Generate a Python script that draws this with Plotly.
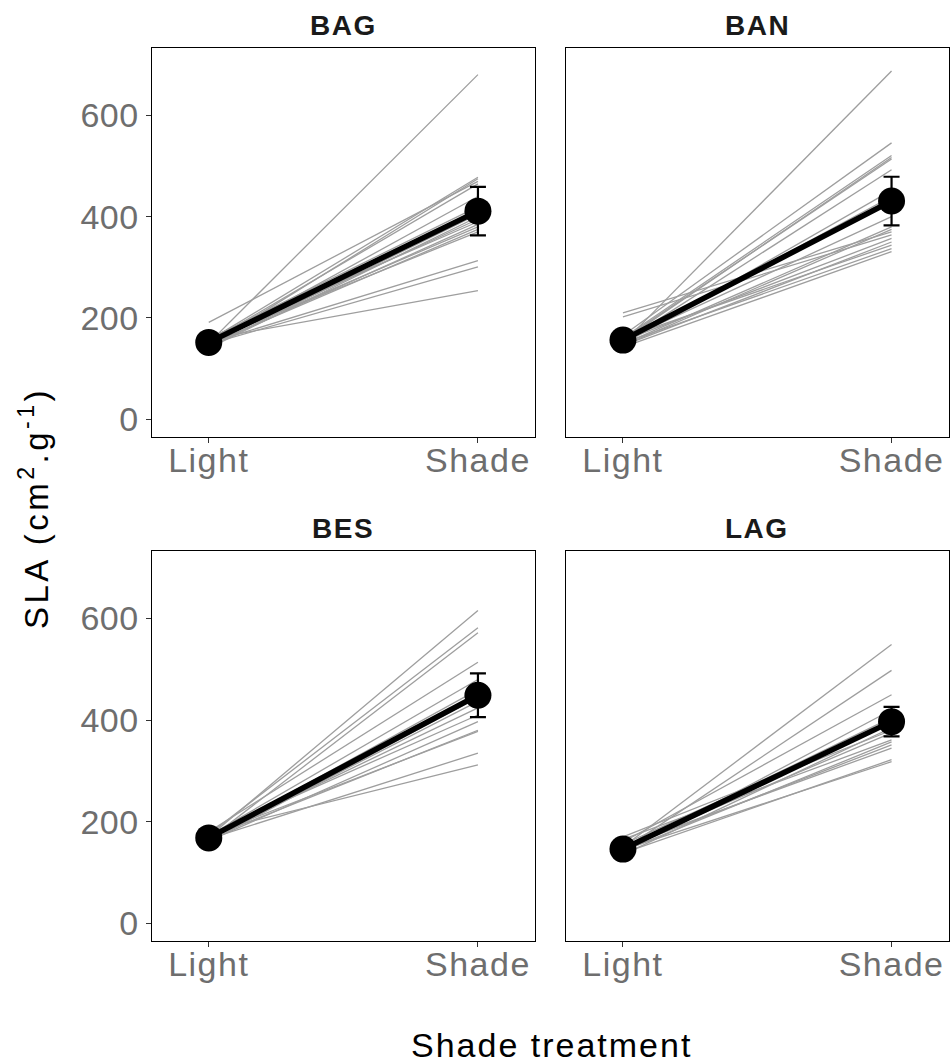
import plotly.graph_objects as go

treatments = ["Light", "Shade"]
panels = ["BAG", "BAN", "BES", "LAG"]

# individual lines (light value, shade value)
bag_light = [150, 191, 155, 145, 152, 148, 158, 140, 150, 160, 145, 152, 147, 155, 150, 148, 158, 143]
bag_shade = [681, 470, 478, 475, 465, 440, 420, 400, 395, 390, 385, 380, 375, 370, 313, 301, 254, 405]

ban_light = [150, 165, 160, 155, 158, 152, 210, 202, 148, 155, 145, 160, 150, 142, 155, 148, 152, 145]
ban_shade = [688, 546, 521, 517, 514, 493, 370, 364, 452, 357, 350, 344, 337, 331, 400, 380, 440, 375]

bes_light = [170, 175, 165, 180, 172, 168, 160, 165, 170, 175, 162, 168, 173, 166, 180]
bes_shade = [616, 582, 572, 514, 480, 460, 445, 437, 424, 410, 397, 380, 378, 335, 312]

lag_light = [150, 145, 160, 140, 148, 155, 135, 150, 165, 142, 148, 152, 138, 145, 170]
lag_shade = [549, 498, 450, 420, 405, 395, 385, 375, 361, 357, 351, 345, 322, 318, 380]

# means and error half-widths (Light, Shade)
bag_mean = [151.5, 411]
bag_err = [8, 48]
ban_mean = [156, 431]
ban_err = [9, 48]
bes_mean = [168, 449]
bes_err = [6, 43]
lag_mean = [146, 397]
lag_err = [6, 29]

y_ticks = [0, 200, 400, 600]

indiv = [(bag_light, bag_shade), (ban_light, ban_shade), (bes_light, bes_shade), (lag_light, lag_shade)]
means = [bag_mean, ban_mean, bes_mean, lag_mean]
errs = [bag_err, ban_err, bes_err, lag_err]

W, H = 950, 1063
xdom = [[151.7 / W, 535.0 / W], [566.0 / W, 948.5 / W]]
ydom = [[1 - 436.7 / H, 1 - 48.3 / H], [1 - 941.0 / H, 1 - 551.0 / H]]

FONT = "Liberation Sans, Arial, sans-serif"


def spaced(t, px):
    return '<span style="letter-spacing:%spx">%s</span>' % (px, t)


fig = go.Figure()

for i, name in enumerate(panels):
    ax = "" if i == 0 else str(i + 1)
    xa, ya = "x" + ax, "y" + ax
    lights, shades = indiv[i]
    for l, s in zip(lights, shades):
        fig.add_trace(go.Scatter(x=treatments, y=[l, s], mode="lines",
                                 line=dict(color="#9e9e9e", width=1.3),
                                 xaxis=xa, yaxis=ya, showlegend=False, hoverinfo="skip"))
    fig.add_trace(go.Scatter(x=treatments, y=means[i], mode="lines+markers",
                             line=dict(color="black", width=5.5),
                             marker=dict(color="black", size=27),
                             error_y=dict(type="data", array=errs[i], visible=True,
                                          color="black", thickness=2.2, width=8),
                             xaxis=xa, yaxis=ya, showlegend=False))
    col, row = i % 2, i // 2
    axis_common = dict(showline=True, mirror=True, linecolor="black", linewidth=1.4,
                       showgrid=False, zeroline=False)
    fig.layout["xaxis" + ax] = dict(domain=xdom[col], anchor=ya, type="category",
                                    range=[-0.212, 1.212], ticks="outside", ticklen=5,
                                    tickcolor="#333333", tickwidth=1,
                                    tickvals=treatments,
                                    ticktext=[spaced(t, 1.5) for t in treatments],
                                    ticklabelstandoff=-12,
                                    tickfont=dict(family=FONT, size=34, color="#6e6e6e"),
                                    **axis_common)
    yd = dict(domain=ydom[row], anchor=xa, range=[-35, 733],
              tickvals=y_ticks, **axis_common)
    if col == 0:
        yd.update(ticks="outside", ticklen=5, tickcolor="#333333", tickwidth=1,
                  ticktext=[spaced(str(v), 0.5) for v in y_ticks],
                  tickfont=dict(family=FONT, size=34, color="#6e6e6e"))
    else:
        yd.update(ticks="", showticklabels=False)
    fig.layout["yaxis" + ax] = yd
    fig.add_annotation(text="<b>" + spaced(name, 1.5) + "</b>", xref="paper", yref="paper",
                       x=(xdom[col][0] + xdom[col][1]) / 2,
                       y=ydom[row][1] + 23 / H, xanchor="center", yanchor="middle",
                       showarrow=False, font=dict(family=FONT, size=28, color="#1a1a1a"))

fig.add_annotation(text=spaced("SLA (cm<sup>2</sup>.g<sup>-1</sup>)", 3.5), xref="paper", yref="paper",
                   x=34 / W, y=1 - 508 / H, textangle=-90, xanchor="center", yanchor="middle",
                   showarrow=False, font=dict(family=FONT, size=33, color="black"))
fig.add_annotation(text=spaced("Shade treatment", 2), xref="paper", yref="paper",
                   x=551 / W, y=1 - 1045 / H, xanchor="center", yanchor="middle",
                   showarrow=False, font=dict(family=FONT, size=34, color="black"))

fig.update_layout(width=W, height=H, margin=dict(l=0, r=0, t=0, b=0),
                  plot_bgcolor="white", paper_bgcolor="white", showlegend=False)

fig.write_html("out.html", config={"displayModeBar": False},
               post_script="document.body.style.margin='0';document.documentElement.style.overflow='hidden';document.body.style.overflow='hidden';")
